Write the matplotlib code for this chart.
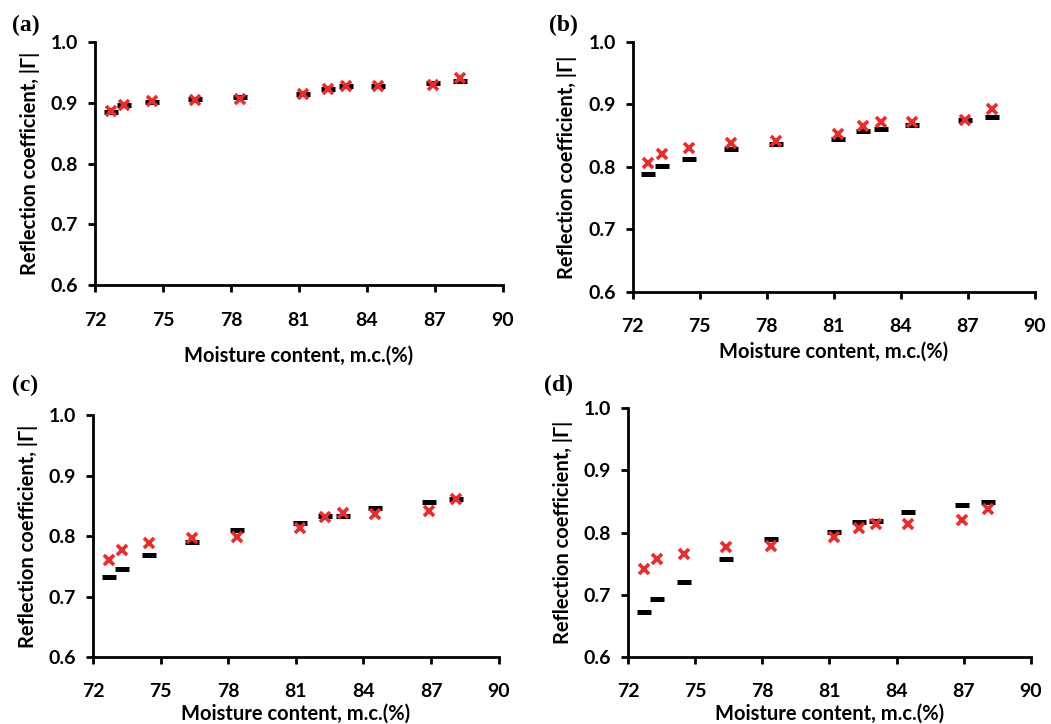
import matplotlib
matplotlib.use("Agg")
import matplotlib.pyplot as plt

plt.rcParams["font.family"] = ["Lato", "DejaVu Sans"]
plt.rcParams["font.weight"] = "bold"

# moisture content of the samples (%)
moisture = [72.7, 73.3, 74.5, 76.4, 78.4, 81.2, 82.3, 83.1, 84.5, 86.9, 88.1]

# measured (black dash) and calculated (red cross) reflection coefficient
measured_a = [0.885, 0.896, 0.902, 0.906, 0.910, 0.915, 0.923, 0.927, 0.928, 0.933, 0.936]
calc_a = [0.887, 0.897, 0.903, 0.905, 0.907, 0.915, 0.923, 0.927, 0.928, 0.930, 0.941]

measured_b = [0.789, 0.801, 0.813, 0.829, 0.837, 0.845, 0.858, 0.860, 0.867, 0.875, 0.880]
calc_b = [0.806, 0.821, 0.830, 0.839, 0.841, 0.853, 0.865, 0.872, 0.872, 0.875, 0.893]

measured_c = [0.733, 0.746, 0.768, 0.790, 0.810, 0.822, 0.833, 0.833, 0.847, 0.856, 0.862]
calc_c = [0.761, 0.777, 0.788, 0.797, 0.798, 0.813, 0.831, 0.839, 0.837, 0.841, 0.862]

measured_d = [0.672, 0.694, 0.721, 0.757, 0.789, 0.801, 0.817, 0.819, 0.833, 0.844, 0.849]
calc_d = [0.742, 0.758, 0.766, 0.776, 0.779, 0.793, 0.807, 0.813, 0.814, 0.820, 0.837]

x_ticks = [72, 75, 78, 81, 84, 87, 90]
y_ticks = [0.6, 0.7, 0.8, 0.9, 1.0]

# letter, data, axes rect, letter position, xlabel pad
panels = [
    ("(a)", measured_a, calc_a, [0.0904, 0.606, 0.388, 0.336], (0.011, 0.965), 12),
    ("(b)", measured_b, calc_b, [0.602, 0.597, 0.3825, 0.345], (0.522, 0.965), 5),
    ("(c)", measured_c, calc_c, [0.0885, 0.0925, 0.386, 0.334], (0.011, 0.468), 2),
    ("(d)", measured_d, calc_d, [0.5975, 0.0925, 0.3834, 0.344], (0.518, 0.468), 2),
]

fig = plt.figure(figsize=(10.51, 7.24), dpi=100)

for letter, measured, calc, rect, letter_pos, xpad in panels:
    ax = fig.add_axes(rect)
    ax.plot(moisture, measured, linestyle="none", marker="_", color="black",
            markersize=9.5, markeredgewidth=3.6, clip_on=False)
    ax.plot(moisture, calc, linestyle="none", marker="x", color="#ee2a2a",
            markersize=7, markeredgewidth=2.6, clip_on=False)

    ax.set_xlim(72, 90)
    ax.set_ylim(0.6, 1.0)
    ax.set_xticks(x_ticks)
    ax.set_yticks(y_ticks)
    ax.set_yticklabels(["%.1f" % v for v in y_ticks])

    for side in ["top", "right"]:
        ax.spines[side].set_visible(False)
    for side in ["left", "bottom"]:
        ax.spines[side].set_linewidth(2.0)
    ax.tick_params(direction="out", length=5, width=2.0, labelsize=14)
    ax.tick_params(axis="x", pad=14)
    ax.tick_params(axis="y", pad=7)
    for lbl in ax.get_xticklabels() + ax.get_yticklabels():
        lbl.set_fontweight("bold")

    ax.set_xlabel("Moisture content, m.c.(%)", fontsize=14.5, fontweight="bold", labelpad=xpad)
    ax.set_ylabel("Reflection coefficient, |Γ|", fontsize=14.5, fontweight="bold", labelpad=8)

    fig.text(letter_pos[0], letter_pos[1], letter, fontsize=17, fontweight="bold",
             family="Liberation Serif", va="center", ha="left")

fig.savefig("out.png", dpi=100)
